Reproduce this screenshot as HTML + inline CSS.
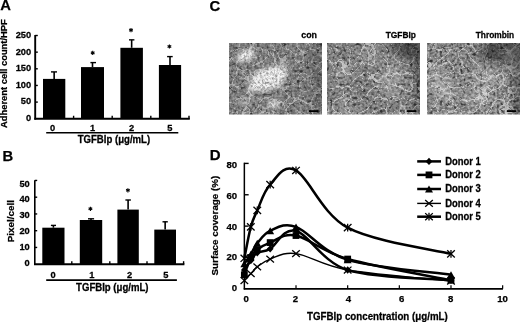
<!DOCTYPE html>
<html><head><meta charset="utf-8"><style>
html,body{margin:0;padding:0;background:#fff;}
svg{display:block;}
text{font-family:"Liberation Sans",sans-serif;font-weight:bold;fill:#000;stroke:#000;stroke-width:0.25px;}
svg{filter:blur(0.3px);}
</style></head><body>
<svg width="520" height="322" viewBox="0 0 520 322">
<defs>
<clipPath id="clip_img1"><rect x="229.0" y="43.0" width="93.0" height="71.5"/></clipPath>
<filter id="t_img1" x="229.0" y="43.0" width="93.0" height="71.5" filterUnits="userSpaceOnUse" color-interpolation-filters="sRGB"><feTurbulence type="fractalNoise" baseFrequency="0.4" numOctaves="2" seed="3" result="n"/><feColorMatrix in="n" type="matrix" values="0.5 0 0 0 0.24  0.5 0 0 0 0.24  0.5 0 0 0 0.24  0 0 0 0 1" result="g"/><feTurbulence type="fractalNoise" baseFrequency="0.3" numOctaves="1" seed="34" result="d"/><feColorMatrix in="d" type="matrix" values="0 0 0 0 0.2  0 0 0 0 0.2  0 0 0 0 0.2  -6 0 0 0 2.4" result="dk"/><feComposite in="dk" in2="g" operator="over" result="g2"/><feTurbulence type="turbulence" baseFrequency="0.08" numOctaves="1" seed="20" result="t"/><feColorMatrix in="t" type="matrix" values="0 0 0 0 1  0 0 0 0 1  0 0 0 0 1  -9 0 0 0 0.35" result="w"/><feComposite in="w" in2="g2" operator="over" result="c"/><feGaussianBlur in="c" stdDeviation="0.6"/></filter>
<filter id="tb_img1" x="229.0" y="43.0" width="93.0" height="71.5" filterUnits="userSpaceOnUse" color-interpolation-filters="sRGB"><feTurbulence type="fractalNoise" baseFrequency="0.45" numOctaves="2" seed="103" result="n"/><feColorMatrix in="n" type="matrix" values="1.0 0 0 0 0.34  1.0 0 0 0 0.34  1.0 0 0 0 0.34  0 0 0 0 1" result="g"/><feTurbulence type="fractalNoise" baseFrequency="0.3" numOctaves="1" seed="134" result="d"/><feColorMatrix in="d" type="matrix" values="0 0 0 0 0.2  0 0 0 0 0.2  0 0 0 0 0.2  -6 0 0 0 2.0" result="dk"/><feComposite in="dk" in2="g" operator="over" result="g2"/><feTurbulence type="turbulence" baseFrequency="0.14" numOctaves="1" seed="120" result="t"/><feColorMatrix in="t" type="matrix" values="0 0 0 0 1  0 0 0 0 1  0 0 0 0 1  -6 0 0 0 0.8" result="w"/><feComposite in="w" in2="g2" operator="over" result="c"/><feGaussianBlur in="c" stdDeviation="0.6"/></filter>
<filter id="bl_img1" x="209.0" y="23.0" width="133.0" height="111.5" filterUnits="userSpaceOnUse"><feGaussianBlur stdDeviation="2"/></filter>
<filter id="bs_img1" x="199.0" y="13.0" width="153.0" height="131.5" filterUnits="userSpaceOnUse"><feGaussianBlur stdDeviation="5"/></filter>
<mask id="m_img1" maskUnits="userSpaceOnUse" x="229.0" y="43.0" width="93.0" height="71.5"><g filter="url(#bl_img1)"><ellipse cx="268" cy="79" rx="19" ry="11.5" transform="rotate(-20 268 79)" fill="#fff" fill-opacity="0.9"/><ellipse cx="277" cy="71" rx="12" ry="6" transform="rotate(-20 277 71)" fill="#fff" fill-opacity="0.6"/><ellipse cx="255" cy="88" rx="9" ry="3.5" transform="rotate(-20 255 88)" fill="#fff" fill-opacity="0.7"/><ellipse cx="246" cy="55.5" rx="9.5" ry="5.5" transform="rotate(-25 246 55.5)" fill="#fff" fill-opacity="0.95"/><ellipse cx="274" cy="104" rx="7" ry="4" transform="rotate(0 274 104)" fill="#fff" fill-opacity="0.85"/><ellipse cx="245" cy="101" rx="7" ry="6" transform="rotate(0 245 101)" fill="#fff" fill-opacity="0.35"/></g></mask>
<g id="img1">
<rect x="229.0" y="43.0" width="93.0" height="71.5" filter="url(#t_img1)"/>
<rect x="229.0" y="43.0" width="93.0" height="71.5" filter="url(#tb_img1)" mask="url(#m_img1)"/>
<g filter="url(#bs_img1)">
<ellipse cx="318" cy="78" rx="6" ry="40" transform="rotate(0 318 78)" fill="#000" fill-opacity="0.25"/>
</g>
<rect x="308.9" y="110.2" width="9.3" height="1.8" fill="#000"/>
</g>
<clipPath id="clip_img2"><rect x="327.0" y="43.0" width="93.0" height="71.5"/></clipPath>
<filter id="t_img2" x="327.0" y="43.0" width="93.0" height="71.5" filterUnits="userSpaceOnUse" color-interpolation-filters="sRGB"><feTurbulence type="fractalNoise" baseFrequency="0.4" numOctaves="2" seed="7" result="n"/><feColorMatrix in="n" type="matrix" values="0.55 0 0 0 0.23  0.55 0 0 0 0.23  0.55 0 0 0 0.23  0 0 0 0 1" result="g"/><feTurbulence type="fractalNoise" baseFrequency="0.3" numOctaves="1" seed="38" result="d"/><feColorMatrix in="d" type="matrix" values="0 0 0 0 0.2  0 0 0 0 0.2  0 0 0 0 0.2  -6 0 0 0 2.5" result="dk"/><feComposite in="dk" in2="g" operator="over" result="g2"/><feTurbulence type="turbulence" baseFrequency="0.08" numOctaves="1" seed="24" result="t"/><feColorMatrix in="t" type="matrix" values="0 0 0 0 1  0 0 0 0 1  0 0 0 0 1  -9 0 0 0 0.45" result="w"/><feComposite in="w" in2="g2" operator="over" result="c"/><feGaussianBlur in="c" stdDeviation="0.6"/></filter>
<filter id="tb_img2" x="327.0" y="43.0" width="93.0" height="71.5" filterUnits="userSpaceOnUse" color-interpolation-filters="sRGB"><feTurbulence type="fractalNoise" baseFrequency="0.45" numOctaves="2" seed="107" result="n"/><feColorMatrix in="n" type="matrix" values="1.0 0 0 0 0.34  1.0 0 0 0 0.34  1.0 0 0 0 0.34  0 0 0 0 1" result="g"/><feTurbulence type="fractalNoise" baseFrequency="0.3" numOctaves="1" seed="138" result="d"/><feColorMatrix in="d" type="matrix" values="0 0 0 0 0.2  0 0 0 0 0.2  0 0 0 0 0.2  -6 0 0 0 2.0" result="dk"/><feComposite in="dk" in2="g" operator="over" result="g2"/><feTurbulence type="turbulence" baseFrequency="0.14" numOctaves="1" seed="124" result="t"/><feColorMatrix in="t" type="matrix" values="0 0 0 0 1  0 0 0 0 1  0 0 0 0 1  -6 0 0 0 0.8" result="w"/><feComposite in="w" in2="g2" operator="over" result="c"/><feGaussianBlur in="c" stdDeviation="0.6"/></filter>
<filter id="bl_img2" x="307.0" y="23.0" width="133.0" height="111.5" filterUnits="userSpaceOnUse"><feGaussianBlur stdDeviation="2"/></filter>
<filter id="bs_img2" x="297.0" y="13.0" width="153.0" height="131.5" filterUnits="userSpaceOnUse"><feGaussianBlur stdDeviation="5"/></filter>
<g id="img2">
<rect x="327.0" y="43.0" width="93.0" height="71.5" filter="url(#t_img2)"/>
<g filter="url(#bs_img2)">
<ellipse cx="418" cy="44" rx="26" ry="16" transform="rotate(0 418 44)" fill="#000" fill-opacity="0.45"/>
<ellipse cx="420" cy="80" rx="5" ry="40" transform="rotate(0 420 80)" fill="#000" fill-opacity="0.35"/>
<ellipse cx="343" cy="73" rx="9" ry="8" transform="rotate(0 343 73)" fill="#fff" fill-opacity="0.22"/>
<ellipse cx="392" cy="80" rx="12" ry="18" transform="rotate(0 392 80)" fill="#fff" fill-opacity="0.2"/>
<ellipse cx="368" cy="58" rx="9" ry="7" transform="rotate(0 368 58)" fill="#fff" fill-opacity="0.18"/>
<ellipse cx="342" cy="110" rx="18" ry="5" transform="rotate(0 342 110)" fill="#fff" fill-opacity="0.2"/>
</g>
<rect x="406.9" y="110.2" width="9.3" height="1.8" fill="#000"/>
</g>
<clipPath id="clip_img3"><rect x="427.0" y="43.0" width="93.0" height="71.5"/></clipPath>
<filter id="t_img3" x="427.0" y="43.0" width="93.0" height="71.5" filterUnits="userSpaceOnUse" color-interpolation-filters="sRGB"><feTurbulence type="fractalNoise" baseFrequency="0.4" numOctaves="2" seed="11" result="n"/><feColorMatrix in="n" type="matrix" values="0.6 0 0 0 0.23  0.6 0 0 0 0.23  0.6 0 0 0 0.23  0 0 0 0 1" result="g"/><feTurbulence type="fractalNoise" baseFrequency="0.3" numOctaves="1" seed="42" result="d"/><feColorMatrix in="d" type="matrix" values="0 0 0 0 0.2  0 0 0 0 0.2  0 0 0 0 0.2  -6 0 0 0 2.5" result="dk"/><feComposite in="dk" in2="g" operator="over" result="g2"/><feTurbulence type="turbulence" baseFrequency="0.08" numOctaves="1" seed="28" result="t"/><feColorMatrix in="t" type="matrix" values="0 0 0 0 1  0 0 0 0 1  0 0 0 0 1  -9 0 0 0 0.45" result="w"/><feComposite in="w" in2="g2" operator="over" result="c"/><feGaussianBlur in="c" stdDeviation="0.6"/></filter>
<filter id="tb_img3" x="427.0" y="43.0" width="93.0" height="71.5" filterUnits="userSpaceOnUse" color-interpolation-filters="sRGB"><feTurbulence type="fractalNoise" baseFrequency="0.45" numOctaves="2" seed="111" result="n"/><feColorMatrix in="n" type="matrix" values="1.0 0 0 0 0.34  1.0 0 0 0 0.34  1.0 0 0 0 0.34  0 0 0 0 1" result="g"/><feTurbulence type="fractalNoise" baseFrequency="0.3" numOctaves="1" seed="142" result="d"/><feColorMatrix in="d" type="matrix" values="0 0 0 0 0.2  0 0 0 0 0.2  0 0 0 0 0.2  -6 0 0 0 2.0" result="dk"/><feComposite in="dk" in2="g" operator="over" result="g2"/><feTurbulence type="turbulence" baseFrequency="0.14" numOctaves="1" seed="128" result="t"/><feColorMatrix in="t" type="matrix" values="0 0 0 0 1  0 0 0 0 1  0 0 0 0 1  -6 0 0 0 0.8" result="w"/><feComposite in="w" in2="g2" operator="over" result="c"/><feGaussianBlur in="c" stdDeviation="0.6"/></filter>
<filter id="bl_img3" x="407.0" y="23.0" width="133.0" height="111.5" filterUnits="userSpaceOnUse"><feGaussianBlur stdDeviation="2"/></filter>
<filter id="bs_img3" x="397.0" y="13.0" width="153.0" height="131.5" filterUnits="userSpaceOnUse"><feGaussianBlur stdDeviation="5"/></filter>
<g id="img3">
<rect x="427.0" y="43.0" width="93.0" height="71.5" filter="url(#t_img3)"/>
<g filter="url(#bs_img3)">
<ellipse cx="505" cy="52" rx="26" ry="16" transform="rotate(0 505 52)" fill="#000" fill-opacity="0.45"/>
<ellipse cx="518" cy="85" rx="6" ry="35" transform="rotate(0 518 85)" fill="#000" fill-opacity="0.35"/>
<ellipse cx="441" cy="85" rx="12" ry="16" transform="rotate(-30 441 85)" fill="#fff" fill-opacity="0.25"/>
<ellipse cx="486" cy="77" rx="14" ry="10" transform="rotate(0 486 77)" fill="#fff" fill-opacity="0.22"/>
<ellipse cx="476" cy="97" rx="17" ry="8" transform="rotate(0 476 97)" fill="#fff" fill-opacity="0.2"/>
<ellipse cx="512" cy="60" rx="8" ry="9" transform="rotate(0 512 60)" fill="#fff" fill-opacity="0.18"/>
</g>
<rect x="506.9" y="110.2" width="9.3" height="1.8" fill="#000"/>
</g>
</defs>
<rect width="520" height="322" fill="#fff"/>
<text x="0.30" y="10.40" font-size="14.8" text-anchor="start" >A</text>
<line x1="35.20" y1="35.00" x2="35.20" y2="119.65" stroke="#000" stroke-width="1.9" />
<line x1="34.30" y1="118.75" x2="189.80" y2="118.75" stroke="#000" stroke-width="1.9" />
<text transform="translate(31.20,120.80) scale(1,1.07)" font-size="9.3" text-anchor="end" >0</text>
<line x1="35.20" y1="102.10" x2="37.80" y2="102.10" stroke="#000" stroke-width="1.4" />
<text transform="translate(31.20,104.29) scale(1,1.07)" font-size="9.3" text-anchor="end" >50</text>
<line x1="35.20" y1="85.45" x2="37.80" y2="85.45" stroke="#000" stroke-width="1.4" />
<text transform="translate(31.20,87.78) scale(1,1.07)" font-size="9.3" text-anchor="end" >100</text>
<line x1="35.20" y1="68.80" x2="37.80" y2="68.80" stroke="#000" stroke-width="1.4" />
<text transform="translate(31.20,71.27) scale(1,1.07)" font-size="9.3" text-anchor="end" >150</text>
<line x1="35.20" y1="52.15" x2="37.80" y2="52.15" stroke="#000" stroke-width="1.4" />
<text transform="translate(31.20,54.76) scale(1,1.07)" font-size="9.3" text-anchor="end" >200</text>
<line x1="35.20" y1="35.50" x2="37.80" y2="35.50" stroke="#000" stroke-width="1.4" />
<text transform="translate(31.20,38.25) scale(1,1.07)" font-size="9.3" text-anchor="end" >250</text>
<line x1="73.60" y1="118.75" x2="73.60" y2="115.75" stroke="#000" stroke-width="1.4" />
<line x1="112.20" y1="118.75" x2="112.20" y2="115.75" stroke="#000" stroke-width="1.4" />
<line x1="150.80" y1="118.75" x2="150.80" y2="115.75" stroke="#000" stroke-width="1.4" />
<line x1="189.00" y1="118.75" x2="189.00" y2="115.75" stroke="#000" stroke-width="1.4" />
<rect x="43.00" y="78.90" width="22.30" height="39.85" fill="#000"/>
<line x1="54.15" y1="78.90" x2="54.15" y2="71.90" stroke="#000" stroke-width="1.6" />
<line x1="51.00" y1="71.90" x2="57.00" y2="71.90" stroke="#000" stroke-width="1.4" />
<rect x="81.00" y="67.10" width="23.00" height="51.65" fill="#000"/>
<line x1="92.50" y1="67.10" x2="92.50" y2="62.60" stroke="#000" stroke-width="1.6" />
<line x1="90.40" y1="62.60" x2="96.00" y2="62.60" stroke="#000" stroke-width="1.4" />
<rect x="120.40" y="47.80" width="22.50" height="70.95" fill="#000"/>
<line x1="131.65" y1="47.80" x2="131.65" y2="39.85" stroke="#000" stroke-width="1.6" />
<line x1="129.00" y1="39.85" x2="134.40" y2="39.85" stroke="#000" stroke-width="1.4" />
<rect x="158.90" y="65.00" width="22.20" height="53.75" fill="#000"/>
<line x1="170.00" y1="65.00" x2="170.00" y2="56.60" stroke="#000" stroke-width="1.6" />
<line x1="167.10" y1="56.60" x2="172.70" y2="56.60" stroke="#000" stroke-width="1.4" />
<line x1="92.70" y1="50.80" x2="92.70" y2="55.00" stroke="#000" stroke-width="1.1" />
<line x1="90.88" y1="51.85" x2="94.52" y2="53.95" stroke="#000" stroke-width="1.1" />
<line x1="94.52" y1="51.85" x2="90.88" y2="53.95" stroke="#000" stroke-width="1.1" />
<line x1="131.00" y1="28.00" x2="131.00" y2="32.20" stroke="#000" stroke-width="1.1" />
<line x1="129.18" y1="29.05" x2="132.82" y2="31.15" stroke="#000" stroke-width="1.1" />
<line x1="132.82" y1="29.05" x2="129.18" y2="31.15" stroke="#000" stroke-width="1.1" />
<line x1="169.40" y1="44.40" x2="169.40" y2="48.60" stroke="#000" stroke-width="1.1" />
<line x1="167.58" y1="45.45" x2="171.22" y2="47.55" stroke="#000" stroke-width="1.1" />
<line x1="171.22" y1="45.45" x2="167.58" y2="47.55" stroke="#000" stroke-width="1.1" />
<text transform="translate(52.60,130.50) scale(1,1.07)" font-size="9.3" text-anchor="middle" >0</text>
<text transform="translate(92.70,130.50) scale(1,1.07)" font-size="9.3" text-anchor="middle" >1</text>
<text transform="translate(131.60,130.50) scale(1,1.07)" font-size="9.3" text-anchor="middle" >2</text>
<text transform="translate(169.80,130.50) scale(1,1.07)" font-size="9.3" text-anchor="middle" >5</text>
<line x1="46.20" y1="132.70" x2="178.30" y2="132.70" stroke="#000" stroke-width="1.6" />
<text transform="translate(113.90,143.30) scale(1,1.07)" font-size="9.6" text-anchor="middle" >TGFBIp (&#956;g/mL)</text>
<text transform="translate(7.00,73.60) rotate(-90)" font-size="9.4" text-anchor="middle">Adherent cell count/HPF</text>
<text x="2.60" y="161.00" font-size="14.8" text-anchor="start" >B</text>
<line x1="34.80" y1="180.30" x2="34.80" y2="265.10" stroke="#000" stroke-width="1.6" />
<line x1="34.00" y1="264.20" x2="184.40" y2="264.20" stroke="#000" stroke-width="1.9" />
<text transform="translate(29.80,265.75) scale(1,1.07)" font-size="9.3" text-anchor="end" >0</text>
<line x1="34.80" y1="247.45" x2="37.20" y2="247.45" stroke="#000" stroke-width="1.4" />
<text transform="translate(29.80,249.93) scale(1,1.07)" font-size="9.3" text-anchor="end" >10</text>
<line x1="34.80" y1="230.70" x2="37.20" y2="230.70" stroke="#000" stroke-width="1.4" />
<text transform="translate(29.80,234.11) scale(1,1.07)" font-size="9.3" text-anchor="end" >20</text>
<line x1="34.80" y1="213.95" x2="37.20" y2="213.95" stroke="#000" stroke-width="1.4" />
<text transform="translate(29.80,218.29) scale(1,1.07)" font-size="9.3" text-anchor="end" >30</text>
<line x1="34.80" y1="197.20" x2="37.20" y2="197.20" stroke="#000" stroke-width="1.4" />
<text transform="translate(29.80,202.47) scale(1,1.07)" font-size="9.3" text-anchor="end" >40</text>
<line x1="34.80" y1="180.45" x2="37.20" y2="180.45" stroke="#000" stroke-width="1.4" />
<text transform="translate(29.80,186.65) scale(1,1.07)" font-size="9.3" text-anchor="end" >50</text>
<line x1="71.80" y1="264.20" x2="71.80" y2="261.20" stroke="#000" stroke-width="1.4" />
<line x1="109.80" y1="264.20" x2="109.80" y2="261.20" stroke="#000" stroke-width="1.4" />
<line x1="147.00" y1="264.20" x2="147.00" y2="261.20" stroke="#000" stroke-width="1.4" />
<line x1="183.60" y1="264.20" x2="183.60" y2="261.20" stroke="#000" stroke-width="1.4" />
<rect x="42.30" y="227.70" width="22.20" height="36.50" fill="#000"/>
<line x1="53.40" y1="227.70" x2="53.40" y2="225.40" stroke="#000" stroke-width="1.6" />
<line x1="50.90" y1="225.40" x2="56.00" y2="225.40" stroke="#000" stroke-width="1.4" />
<rect x="79.80" y="220.00" width="22.40" height="44.20" fill="#000"/>
<line x1="91.00" y1="220.00" x2="91.00" y2="218.80" stroke="#000" stroke-width="1.6" />
<line x1="88.00" y1="218.80" x2="94.10" y2="218.80" stroke="#000" stroke-width="1.4" />
<rect x="117.40" y="209.60" width="21.40" height="54.60" fill="#000"/>
<line x1="128.10" y1="209.60" x2="128.10" y2="200.00" stroke="#000" stroke-width="1.6" />
<line x1="125.40" y1="200.00" x2="130.90" y2="200.00" stroke="#000" stroke-width="1.4" />
<rect x="154.30" y="229.60" width="21.70" height="34.60" fill="#000"/>
<line x1="165.15" y1="229.60" x2="165.15" y2="221.80" stroke="#000" stroke-width="1.6" />
<line x1="162.50" y1="221.80" x2="167.80" y2="221.80" stroke="#000" stroke-width="1.4" />
<line x1="90.40" y1="206.70" x2="90.40" y2="210.90" stroke="#000" stroke-width="1.1" />
<line x1="88.58" y1="207.75" x2="92.22" y2="209.85" stroke="#000" stroke-width="1.1" />
<line x1="92.22" y1="207.75" x2="88.58" y2="209.85" stroke="#000" stroke-width="1.1" />
<line x1="127.90" y1="188.20" x2="127.90" y2="192.40" stroke="#000" stroke-width="1.1" />
<line x1="126.08" y1="189.25" x2="129.72" y2="191.35" stroke="#000" stroke-width="1.1" />
<line x1="129.72" y1="189.25" x2="126.08" y2="191.35" stroke="#000" stroke-width="1.1" />
<text transform="translate(53.10,277.80) scale(1,1.07)" font-size="9.3" text-anchor="middle" >0</text>
<text transform="translate(91.90,277.80) scale(1,1.07)" font-size="9.3" text-anchor="middle" >1</text>
<text transform="translate(129.60,277.80) scale(1,1.07)" font-size="9.3" text-anchor="middle" >2</text>
<text transform="translate(165.80,277.80) scale(1,1.07)" font-size="9.3" text-anchor="middle" >5</text>
<line x1="46.20" y1="280.10" x2="176.90" y2="280.10" stroke="#000" stroke-width="1.6" />
<text transform="translate(112.30,291.00) scale(1,1.07)" font-size="9.6" text-anchor="middle" >TGFBIp (&#956;g/mL)</text>
<text transform="translate(13.50,221.10) rotate(-90)" font-size="9.9" text-anchor="middle">Pixel/cell</text>
<text x="209.40" y="10.90" font-size="14.8" text-anchor="start" >C</text>
<g clip-path="url(#clip_img1)"><use href="#img1" x="0" y="0"/></g>
<g clip-path="url(#clip_img2)"><use href="#img2" x="0" y="0"/></g>
<g clip-path="url(#clip_img3)"><use href="#img3" x="0" y="0"/></g>
<text transform="translate(317.00,37.90) scale(1,1.05)" font-size="8.9" text-anchor="end" >con</text>
<text transform="translate(416.00,37.60) scale(1,1.05)" font-size="8.4" text-anchor="end" >TGFBIp</text>
<text transform="translate(514.20,37.60) scale(1,1.05)" font-size="8.35" text-anchor="end" >Thrombin</text>
<text x="209.80" y="160.00" font-size="15.0" text-anchor="start" >D</text>
<line x1="244.35" y1="162.70" x2="244.35" y2="289.45" stroke="#000" stroke-width="1.5" />
<line x1="243.75" y1="288.85" x2="502.90" y2="288.85" stroke="#000" stroke-width="1.6" />
<text x="237.20" y="291.05" font-size="9.6" text-anchor="end" >0</text>
<line x1="244.35" y1="257.49" x2="248.65" y2="257.49" stroke="#000" stroke-width="1.4" />
<text x="237.20" y="260.30" font-size="9.6" text-anchor="end" >20</text>
<line x1="244.35" y1="226.12" x2="248.65" y2="226.12" stroke="#000" stroke-width="1.4" />
<text x="237.20" y="229.55" font-size="9.6" text-anchor="end" >40</text>
<line x1="244.35" y1="194.76" x2="248.65" y2="194.76" stroke="#000" stroke-width="1.4" />
<text x="237.20" y="198.80" font-size="9.6" text-anchor="end" >60</text>
<line x1="244.35" y1="163.40" x2="248.65" y2="163.40" stroke="#000" stroke-width="1.4" />
<text x="237.20" y="168.05" font-size="9.6" text-anchor="end" >80</text>
<line x1="296.01" y1="288.85" x2="296.01" y2="285.35" stroke="#000" stroke-width="1.2" />
<line x1="347.67" y1="288.85" x2="347.67" y2="285.35" stroke="#000" stroke-width="1.2" />
<line x1="399.33" y1="288.85" x2="399.33" y2="285.35" stroke="#000" stroke-width="1.2" />
<line x1="450.99" y1="288.85" x2="450.99" y2="285.35" stroke="#000" stroke-width="1.2" />
<line x1="502.65" y1="288.85" x2="502.65" y2="285.35" stroke="#000" stroke-width="1.2" />
<text x="246.20" y="301.70" font-size="9.6" text-anchor="middle" >0</text>
<text x="295.50" y="301.70" font-size="9.6" text-anchor="middle" >2</text>
<text x="348.40" y="301.70" font-size="9.6" text-anchor="middle" >4</text>
<text x="401.60" y="301.70" font-size="9.6" text-anchor="middle" >6</text>
<text x="450.70" y="301.70" font-size="9.6" text-anchor="middle" >8</text>
<text x="502.60" y="301.70" font-size="9.6" text-anchor="middle" >10</text>
<text transform="translate(377.40,320.00) scale(1,1.05)" font-size="9.75" text-anchor="middle" >TGFBIp concentration (&#956;g/mL)</text>
<text transform="translate(218.40,225.60) rotate(-90)" font-size="9.8" text-anchor="middle">Surface coverage (%)</text>
<path d="M244.35,280.54 C245.43,279.39 248.66,275.91 250.81,273.64 C252.96,271.37 254.04,269.33 257.26,266.90 C260.49,264.47 263.72,261.28 270.18,259.06 C276.64,256.83 283.10,251.74 296.01,253.57 C308.92,255.40 321.84,265.46 347.67,270.03 C373.50,274.61 433.77,279.18 450.99,281.01" fill="none" stroke="#000" stroke-width="1.4"/>
<line x1="240.55" y1="277.14" x2="248.15" y2="283.94" stroke="#000" stroke-width="1.3" />
<line x1="240.55" y1="283.94" x2="248.15" y2="277.14" stroke="#000" stroke-width="1.3" />
<line x1="247.01" y1="270.24" x2="254.61" y2="277.04" stroke="#000" stroke-width="1.3" />
<line x1="247.01" y1="277.04" x2="254.61" y2="270.24" stroke="#000" stroke-width="1.3" />
<line x1="253.46" y1="263.50" x2="261.06" y2="270.30" stroke="#000" stroke-width="1.3" />
<line x1="253.46" y1="270.30" x2="261.06" y2="263.50" stroke="#000" stroke-width="1.3" />
<line x1="266.38" y1="255.66" x2="273.98" y2="262.46" stroke="#000" stroke-width="1.3" />
<line x1="266.38" y1="262.46" x2="273.98" y2="255.66" stroke="#000" stroke-width="1.3" />
<line x1="292.21" y1="250.17" x2="299.81" y2="256.97" stroke="#000" stroke-width="1.3" />
<line x1="292.21" y1="256.97" x2="299.81" y2="250.17" stroke="#000" stroke-width="1.3" />
<line x1="343.87" y1="266.63" x2="351.47" y2="273.43" stroke="#000" stroke-width="1.3" />
<line x1="343.87" y1="273.43" x2="351.47" y2="266.63" stroke="#000" stroke-width="1.3" />
<line x1="447.19" y1="277.61" x2="454.79" y2="284.41" stroke="#000" stroke-width="1.3" />
<line x1="447.19" y1="284.41" x2="454.79" y2="277.61" stroke="#000" stroke-width="1.3" />
<path d="M244.35,270.03 C245.43,268.46 248.66,263.50 250.81,260.62 C252.96,257.75 254.04,254.74 257.26,252.78 C260.49,250.82 264.31,252.19 270.18,248.86 C276.64,245.20 283.10,227.30 296.01,230.83 C308.92,234.36 321.84,261.80 347.67,270.03 C373.50,278.27 433.77,278.53 450.99,280.23" fill="none" stroke="#000" stroke-width="2.5"/>
<path d="M244.35,266.33 L247.75,270.03 L244.35,273.73 L240.95,270.03Z" fill="#000"/>
<path d="M250.81,256.92 L254.21,260.62 L250.81,264.32 L247.41,260.62Z" fill="#000"/>
<path d="M257.26,249.08 L260.66,252.78 L257.26,256.48 L253.86,252.78Z" fill="#000"/>
<path d="M270.18,245.16 L273.58,248.86 L270.18,252.56 L266.78,248.86Z" fill="#000"/>
<path d="M296.01,227.13 L299.41,230.83 L296.01,234.53 L292.61,230.83Z" fill="#000"/>
<path d="M347.67,266.33 L351.07,270.03 L347.67,273.73 L344.27,270.03Z" fill="#000"/>
<path d="M450.99,276.53 L454.39,280.23 L450.99,283.93 L447.59,280.23Z" fill="#000"/>
<path d="M244.35,274.74 C245.43,271.86 248.66,261.67 250.81,257.49 C252.96,253.31 254.04,252.13 257.26,249.65 C260.49,247.16 263.72,244.94 270.18,242.59 C276.64,240.24 283.10,232.79 296.01,235.53 C308.92,238.28 321.84,251.61 347.67,259.06 C373.50,266.50 433.77,276.70 450.99,280.23" fill="none" stroke="#000" stroke-width="2.5"/>
<rect x="240.95" y="271.34" width="6.80" height="6.80" fill="#000"/>
<rect x="247.41" y="254.09" width="6.80" height="6.80" fill="#000"/>
<rect x="253.86" y="246.25" width="6.80" height="6.80" fill="#000"/>
<rect x="266.78" y="239.19" width="6.80" height="6.80" fill="#000"/>
<rect x="292.61" y="232.13" width="6.80" height="6.80" fill="#000"/>
<rect x="344.27" y="255.66" width="6.80" height="6.80" fill="#000"/>
<rect x="447.59" y="276.83" width="6.80" height="6.80" fill="#000"/>
<path d="M244.35,263.76 C245.43,262.19 248.66,257.75 250.81,254.35 C252.96,250.95 254.04,247.29 257.26,243.37 C260.49,239.45 263.72,233.57 270.18,230.83 C276.64,228.09 283.78,222.33 296.01,226.91 C308.92,231.74 321.84,251.87 347.67,259.84 C373.50,267.81 433.77,272.25 450.99,274.74" fill="none" stroke="#000" stroke-width="2.5"/>
<path d="M244.35,260.26 L248.35,267.26 L240.35,267.26Z" fill="#000"/>
<path d="M250.81,250.85 L254.81,257.85 L246.81,257.85Z" fill="#000"/>
<path d="M257.26,239.87 L261.26,246.87 L253.26,246.87Z" fill="#000"/>
<path d="M270.18,227.33 L274.18,234.33 L266.18,234.33Z" fill="#000"/>
<path d="M296.01,223.41 L300.01,230.41 L292.01,230.41Z" fill="#000"/>
<path d="M347.67,256.34 L351.67,263.34 L343.67,263.34Z" fill="#000"/>
<path d="M450.99,271.24 L454.99,278.24 L446.99,278.24Z" fill="#000"/>
<path d="M244.35,258.27 C245.43,253.04 248.66,234.88 250.81,226.91 C252.96,218.94 254.04,217.50 257.26,210.44 C260.49,203.39 263.72,191.23 270.18,184.57 C276.64,177.91 283.15,163.30 296.01,170.46 C308.92,177.64 321.84,213.79 347.67,227.69 C373.50,241.60 433.77,249.52 450.99,253.88" fill="none" stroke="#000" stroke-width="2.5"/>
<line x1="240.55" y1="254.67" x2="248.15" y2="261.87" stroke="#000" stroke-width="1.3" />
<line x1="240.55" y1="261.87" x2="248.15" y2="254.67" stroke="#000" stroke-width="1.3" />
<line x1="244.35" y1="254.37" x2="244.35" y2="262.17" stroke="#000" stroke-width="1.3" />
<line x1="247.01" y1="223.31" x2="254.61" y2="230.51" stroke="#000" stroke-width="1.3" />
<line x1="247.01" y1="230.51" x2="254.61" y2="223.31" stroke="#000" stroke-width="1.3" />
<line x1="250.81" y1="223.01" x2="250.81" y2="230.81" stroke="#000" stroke-width="1.3" />
<line x1="253.46" y1="206.84" x2="261.06" y2="214.04" stroke="#000" stroke-width="1.3" />
<line x1="253.46" y1="214.04" x2="261.06" y2="206.84" stroke="#000" stroke-width="1.3" />
<line x1="257.26" y1="206.54" x2="257.26" y2="214.34" stroke="#000" stroke-width="1.3" />
<line x1="266.38" y1="180.97" x2="273.98" y2="188.17" stroke="#000" stroke-width="1.3" />
<line x1="266.38" y1="188.17" x2="273.98" y2="180.97" stroke="#000" stroke-width="1.3" />
<line x1="270.18" y1="180.67" x2="270.18" y2="188.47" stroke="#000" stroke-width="1.3" />
<line x1="292.21" y1="166.86" x2="299.81" y2="174.06" stroke="#000" stroke-width="1.3" />
<line x1="292.21" y1="174.06" x2="299.81" y2="166.86" stroke="#000" stroke-width="1.3" />
<line x1="296.01" y1="166.56" x2="296.01" y2="174.36" stroke="#000" stroke-width="1.3" />
<line x1="343.87" y1="224.09" x2="351.47" y2="231.29" stroke="#000" stroke-width="1.3" />
<line x1="343.87" y1="231.29" x2="351.47" y2="224.09" stroke="#000" stroke-width="1.3" />
<line x1="347.67" y1="223.79" x2="347.67" y2="231.59" stroke="#000" stroke-width="1.3" />
<line x1="447.19" y1="250.28" x2="454.79" y2="257.48" stroke="#000" stroke-width="1.3" />
<line x1="447.19" y1="257.48" x2="454.79" y2="250.28" stroke="#000" stroke-width="1.3" />
<line x1="450.99" y1="249.98" x2="450.99" y2="257.78" stroke="#000" stroke-width="1.3" />
<line x1="417.20" y1="161.40" x2="441.00" y2="161.40" stroke="#000" stroke-width="2.5" />
<path d="M429.00,157.70 L432.40,161.40 L429.00,165.10 L425.60,161.40Z" fill="#000"/>
<text transform="translate(445.20,164.50) scale(1,1.08)" font-size="9.45" text-anchor="start" >Donor 1</text>
<line x1="417.20" y1="174.90" x2="441.00" y2="174.90" stroke="#000" stroke-width="2.5" />
<rect x="425.60" y="171.50" width="6.80" height="6.80" fill="#000"/>
<text transform="translate(445.20,178.00) scale(1,1.08)" font-size="9.45" text-anchor="start" >Donor 2</text>
<line x1="417.20" y1="189.00" x2="441.00" y2="189.00" stroke="#000" stroke-width="2.5" />
<path d="M429.00,185.50 L433.00,192.50 L425.00,192.50Z" fill="#000"/>
<text transform="translate(445.20,192.10) scale(1,1.08)" font-size="9.45" text-anchor="start" >Donor 3</text>
<line x1="417.20" y1="203.40" x2="441.00" y2="203.40" stroke="#000" stroke-width="1.4" />
<line x1="425.20" y1="200.00" x2="432.80" y2="206.80" stroke="#000" stroke-width="1.3" />
<line x1="425.20" y1="206.80" x2="432.80" y2="200.00" stroke="#000" stroke-width="1.3" />
<text transform="translate(445.20,206.50) scale(1,1.08)" font-size="9.45" text-anchor="start" >Donor 4</text>
<line x1="417.20" y1="216.70" x2="441.00" y2="216.70" stroke="#000" stroke-width="2.5" />
<line x1="425.20" y1="213.10" x2="432.80" y2="220.30" stroke="#000" stroke-width="1.3" />
<line x1="425.20" y1="220.30" x2="432.80" y2="213.10" stroke="#000" stroke-width="1.3" />
<line x1="429.00" y1="212.80" x2="429.00" y2="220.60" stroke="#000" stroke-width="1.3" />
<text transform="translate(445.20,219.80) scale(1,1.08)" font-size="9.45" text-anchor="start" >Donor 5</text>
</svg>
</body></html>
